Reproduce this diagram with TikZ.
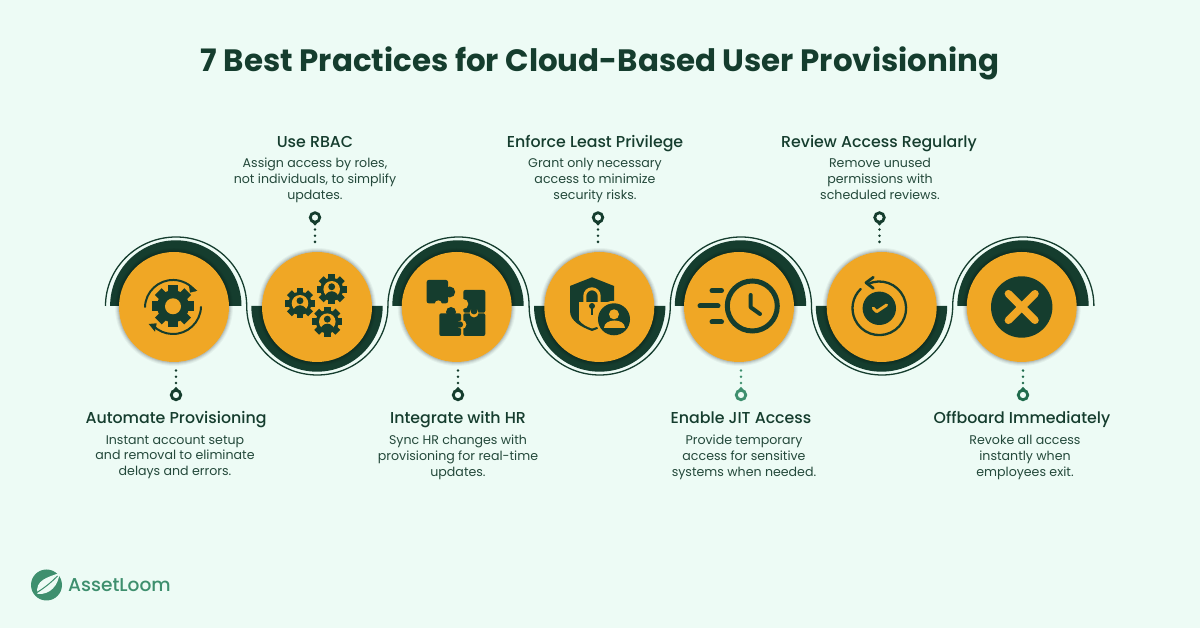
\documentclass[tikz,border=0pt]{standalone}
\usepackage{fontspec}
\setmainfont{Poppins}
\newfontfamily\medfont[UprightFont=* Medium]{Poppins}
\definecolor{bg}{HTML}{EDFBF5}
\definecolor{dk}{HTML}{153D2E}
\definecolor{txt}{HTML}{24493B}
\definecolor{org}{HTML}{F0A725}
\definecolor{lg}{HTML}{3E8F6E}
\definecolor{mg}{HTML}{1F6B4C}
\usetikzlibrary{calc}
\tikzset{
 x=1pt,y=1pt,
 ttl/.style={font=\fontsize{30.9}{36}\selectfont\bfseries,text=dk,inner sep=0},
 hd/.style={font=\fontsize{15.8}{20}\medfont,text=dk,inner sep=0,anchor=base},
 bd/.style={font=\fontsize{12.6}{15.9}\selectfont,text=txt,inner sep=0,align=center,anchor=north,execute at begin node={\rule{0pt}{12pt}}},
 disc/.style={circle,fill=org,minimum size=110pt,inner sep=0},
 knob/.style={circle,draw=#1,line width=2.8pt,fill=none,minimum size=9.5pt,inner sep=0},
 knob/.default=dk,
 dotsl/.style={draw=#1,line width=2.8pt,line cap=round,dash pattern=on 0pt off 6.2pt},
 dotsl/.default=dk,
}
\newcommand{\softshadow}[2]{\foreach \rr/\oo in {59/.04,58/.05,57/.07,56/.09}{\fill[black,opacity=\oo] (#1,#2) circle (\rr);}}
\newcommand{\gearshape}[3]{%
 \foreach \a in {0,45,...,315}{\fill[dk] ($(#1,#2)+(\a:#3*.85)$) ++(\a+90:#3*.3) -- ++(\a:#3*.45) -- ++(\a-90:#3*.6) -- ++(\a+180:#3*.45) -- cycle;}
 \fill[dk] (#1,#2) circle (#3);}
\newcommand{\persongear}[3]{%
 \gearshape{#1}{#2}{#3}
 \fill[org] (#1,#2) circle (#3*.72);
 \fill[dk] ($(#1,#2)+(0,#3*.22)$) circle (#3*.3);
 \begin{scope}\clip (#1,#2) circle (#3);
 \fill[dk] ($(#1,#2)+(0,-#3*.95)$) ellipse (#3*.66 and #3*.78);\end{scope}}
\newcommand{\tipdown}[2]{\fill[#1] ($(#2)+(-3.2,-4.6)$) -- ($(#2)+(3.2,-4.6)$) -- ($(#2)+(0,-8.2)$) -- cycle;}
\newcommand{\tipup}[2]{\fill[#1] ($(#2)+(-3.2,4.6)$) -- ($(#2)+(3.2,4.6)$) -- ($(#2)+(0,8.2)$) -- cycle;}
\begin{document}
\begin{tikzpicture}
\path[use as bounding box,fill=bg] (0,0) rectangle (1200,628);
\node[ttl] (title) at (600,565) {7 Best Practices for Cloud-Based User Provisioning};
% half rings
\foreach \cx/\s in {175.8/1,317/-1,458/1,599.7/-1,740.5/1,881.5/-1,1023/1}{
 \fill[dk] ({\cx-65.7},322) arc[start angle=180,end angle={180-180*\s},radius=65.7] -- cycle;
}
% wave
\draw[dk,line width=1.3pt] (105.5,322) arc[start angle=180,end angle=0,x radius=70.6,y radius=69]
  arc[start angle=180,end angle=360,x radius=70.6,y radius=69]
  arc[start angle=180,end angle=0,x radius=70.6,y radius=69]
  arc[start angle=180,end angle=360,x radius=70.6,y radius=69]
  arc[start angle=180,end angle=0,x radius=70.6,y radius=69]
  arc[start angle=180,end angle=360,x radius=70.6,y radius=69]
  arc[start angle=180,end angle=0,x radius=70.6,y radius=69];
% discs
\foreach \cx in {174,317,456.7,599.3,739,881.7,1021.7}{\softshadow{\cx}{321}}
\node[disc] (c1) at (174,321) {};
\node[disc] (c2) at (317,321) {};
\node[disc] (c3) at (456.7,321) {};
\node[disc] (c4) at (599.3,321) {};
\node[disc] (c5) at (739,321) {};
\node[disc] (c6) at (881.7,321) {};
\node[disc] (c7) at (1021.7,321) {};
% knobs
\node[knob] (k1) at (176,233) {};
\node[knob] (k2) at (315,410.5) {};
\node[knob] (k3) at (458,233) {};
\node[knob] (k4) at (598,410.5) {};
\node[knob=lg] (k5) at (741,233) {};
\node[knob] (k6) at (879.5,410.5) {};
\node[knob=mg] (k7) at (1023,233) {};
\tipup{dk}{k1}\tipup{dk}{k3}\tipup{lg}{k5}\tipup{mg}{k7}
\tipdown{dk}{k2}\tipdown{dk}{k4}\tipdown{dk}{k6}
\draw[dotsl] (k1) ++(0,12) -- +(0,13);
\draw[dotsl] (k3) ++(0,12) -- +(0,13);
\draw[dotsl=lg] (k5) ++(0,12) -- +(0,13);
\draw[dotsl=mg] (k7) ++(0,12) -- +(0,13);
\draw[dotsl] (k2) ++(0,-12) -- +(0,-13);
\draw[dotsl] (k4) ++(0,-12) -- +(0,-13);
\draw[dotsl] (k6) ++(0,-12) -- +(0,-13);
% labels
\node[hd] (h1) at (176,204.6) {Automate Provisioning};
\node[bd] (b1) at (175,192.9) {Instant account setup\\and removal to eliminate\\delays and errors.};
\node[hd] (h2) at (315,480.7) {Use RBAC};
\node[bd] (b2) at (315,469.9) {Assign access by roles,\\not individuals, to simplify\\updates.};
\node[hd] (h3) at (458,204.6) {Integrate with HR};
\node[bd] (b3) at (458,192.9) {Sync HR changes with\\provisioning for real-time\\updates.};
\node[hd] (h4) at (595,480.7) {Enforce Least Privilege};
\node[bd] (b4) at (595,469.9) {Grant only necessary\\access to minimize\\security risks.};
\node[hd] (h5) at (741,204.6) {Enable JIT Access};
\node[bd] (b5) at (744,192.9) {Provide temporary\\access for sensitive\\systems when needed.};
\node[hd] (h6) at (879,480.7) {Review Access Regularly};
\node[bd] (b6) at (880,469.9) {Remove unused\\permissions with\\scheduled reviews.};
\node[hd] (h7) at (1022,204.6) {Offboard Immediately};
\node[bd] (b7) at (1025,192.9) {Revoke all access\\instantly when\\employees exit.};
% icon 1
\begin{scope}[shift={(174,321)}]
 \gearshape{-1}{0.7}{16}
 \fill[org] (-1,0.7) circle (8);
 \draw[dk,line width=2pt,line cap=round] (-29,0) arc[start angle=178,end angle=38,radius=28];
 \draw[dk,line width=2pt,line cap=round] (27,0) arc[start angle=-2,end angle=-135,radius=28];
 \fill[dk] (23.3,16.3) -- (14.7,23) -- (16,14.3) -- cycle;
 \fill[dk] (-25.3,-17) -- (-17.3,-16.3) -- (-19,-24.7) -- cycle;
\end{scope}
% icon 2
\persongear{300}{324.7}{11.5}
\persongear{331.7}{338.7}{11.5}
\persongear{327.3}{306.3}{11.5}
% icon 3
\begin{scope}[shift={(456.7,321)}]
 \fill[dk,rounded corners=2pt] (-30,27) rectangle (-8.7,3.7);
 \fill[dk] (-7,15) circle (5.5);
 \fill[org] (-18.4,3) circle (3.6);
 \fill[dk,rounded corners=2pt] (6.6,17) rectangle (28.6,-5.7);
 \fill[org] (6.6,3) circle (5);
 \fill[dk,rounded corners=2pt] (-17.4,-6.3) rectangle (4.3,-29);
 \fill[dk] (-5.7,-5) circle (5);
 \fill[dk,rounded corners=2pt] (6.6,-6.3) rectangle (28.6,-29);
 \fill[org] (17.3,-5.9) circle (4.5);
 \fill[dk] (17.3,-4) circle (3.4);
 \fill[org] (5.2,-17.5) circle (4.5);
 \fill[dk] (3.2,-17.5) circle (3.2);
\end{scope}
% icon 4
\begin{scope}[shift={(599.3,321)}]
 \fill[dk] (-29.3,21) -- (-7.3,29.7) -- (14.7,21) -- (14.7,-4) .. controls (14.7,-14) and (4,-20) .. (-7.3,-24) .. controls (-18,-20) and (-29.3,-14) .. (-29.3,-4) -- cycle;
 \draw[org,line width=3pt] (-14.5,5) -- (-14.5,11) arc[start angle=180,end angle=0,radius=7.2] -- (-0.1,5);
 \fill[org] (-20.3,5.3) rectangle (7.4,-13);
 \fill[org] (-20.3,-13) .. controls (-18,-17) and (-12,-20) .. (-7.3,-21.5) .. controls (-2,-20) and (2,-18) .. (7.4,-16) -- (7.4,-13) -- cycle;
 \fill[dk] (-7.3,1) circle (3);
 \fill[dk] (-8.6,1) -- (-6,1) -- (-6,-8) -- (-8.6,-8) -- cycle;
 \fill[org] (14.7,-12.3) circle (18.5);
 \fill[dk] (14.7,-12.3) circle (16);
 \fill[org] (14.7,-7.3) circle (5);
 \fill[org] (4.2,-21) .. controls (4.2,-11) and (25.2,-11) .. (25.2,-21) -- cycle;
\end{scope}
% icon 5
\begin{scope}[shift={(739,321)}]
 \draw[dk,line width=5pt] (13.3,1) circle (25);
 \draw[dk,line width=4pt,line cap=round,line join=round] (11.7,12) -- (11.7,-0.3) -- (21,-7);
 \draw[dk,line width=5pt,line cap=round] (-27,16.3) -- (-17.5,16.3);
 \draw[dk,line width=5pt,line cap=round] (-39,1) -- (-21,1);
 \draw[dk,line width=5pt,line cap=round] (-27,-15) -- (-17.5,-15);
\end{scope}
% icon 6
\begin{scope}[shift={(881.7,321)}]
 \fill[dk] (-2.4,-1.3) circle (16.7);
 \draw[org,line width=3pt,line cap=round,line join=round] (-8.4,-1.3) -- (-5,-4.6) -- (4.9,2);
 \draw[dk,line width=2.3pt,line cap=round] ($(-2.4,-1.3)+(115:26.8)$) arc[start angle=115,end angle=-226,radius=26.8];
 \draw[dk,line width=2.8pt,line cap=round,line join=round] (-8.4,29.7) -- (-15.7,24.3) -- (-8.4,18.7);
\end{scope}
% icon 7
\begin{scope}[shift={(1021.7,321)}]
 \fill[dk] (0,0) circle (30.7);
 \draw[org,line width=7.5pt,line cap=round] (-13.3,13.3) -- (13.3,-13.3);
 \draw[org,line width=7.5pt,line cap=round] (-13.3,-13.3) -- (13.3,13.3);
\end{scope}
% logo
\begin{scope}[shift={(46.5,43)}]
 \fill[lg] (0,0) circle (15.5);
 \fill[bg] (-9,-9) .. controls (-12,5) and (2,8) .. (13,12) .. controls (12,0) and (4,-10) .. (-9,-9) -- cycle;
 \draw[lg,line width=1pt] (-12,-9) .. controls (-2,-3) and (4,2) .. (11,9);
\end{scope}
\node[font=\fontsize{18.6}{22}\medfont,text=lg,inner sep=0,anchor=west] (logo) at (68,42.5) {AssetLoom};
\end{tikzpicture}
\end{document}
